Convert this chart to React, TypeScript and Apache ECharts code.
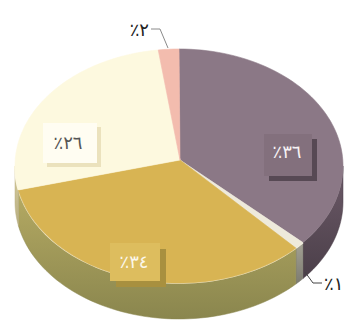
import React, { useEffect, useRef } from 'react';
import * as echarts from 'echarts';

// ---- data ----
const SLICE_NAMES = ['slice1', 'slice2', 'slice3', 'slice4', 'slice5'];
const SHARES = [36, 1, 34, 26, 2];

// ---- styles ----
const TOP_COLORS = ['#8b7886', '#eeeadb', '#d8b453', '#fdf9df', '#f3bcae'];
const SIDE_COLORS = [
  ['#6c5a68', '#4b3f49'],
  ['#a3a194', '#7c7b70'],
  ['#b5aa63', '#8a864e'],
  ['#d9cf9f', '#b8ae80'],
  ['#d8a094', '#c08c80'],
];
const RIM_COLORS = ['rgba(0,0,0,0)', '#f6f3e6', '#f4ecd2', '#fbf6e0', '#f8e0d8'];

const GEO = { cx: 179, cy: 166, rx: 164, ry: 117, vx: 180, vy: 160, depth: 36 };

// label layout per slice (positions only, no data)
const LABEL_LAYOUT: any[] = [
  { kind: 'box', box: [264, 134, 48, 42], shadow: 5, boxFill: '#83707d', shadowFill: '#574954', text: [287, 151], color: '#f6f2f4' },
  { kind: 'out', text: [324, 283], align: 'left', leader: [[305, 272], [313, 283], [322, 283]], color: '#222222', lineColor: '#444444' },
  { kind: 'box', box: [110, 243, 50, 38], shadow: 6, boxFill: '#ddbd5e', shadowFill: '#a8903f', text: [134, 261], color: '#fbf7ea' },
  { kind: 'box', box: [43, 123, 54, 40], shadow: 4, boxFill: '#fffdf2', shadowFill: '#ebe2bd', text: [68, 142], color: '#555555' },
  { kind: 'out', text: [149, 29], align: 'right', leader: [[151, 29], [160, 29], [168, 48]], color: '#222222', lineColor: '#8a8a8a' },
];

const AR_DIGITS = '٠١٢٣٤٥٦٧٨٩';
const toArabic = (n: number) => String(n).replace(/\d/g, (d) => AR_DIGITS[+d]);
const labelText = (v: number) => '٪' + toArabic(v);

function arcPts(a1: number, a2: number, dy: number) {
  const n = Math.max(2, Math.ceil(Math.abs(a2 - a1) / 2));
  const pts: number[][] = [];
  for (let i = 0; i <= n; i++) {
    const a = ((a1 + (a2 - a1) * (i / n)) * Math.PI) / 180;
    pts.push([GEO.cx + GEO.rx * Math.cos(a), GEO.cy - GEO.ry * Math.sin(a) + dy]);
  }
  return pts;
}

export default function App() {
  const ref = useRef<HTMLDivElement>(null);
  useEffect(() => {
    document.body.style.margin = '0';
    if (!ref.current) return;
    const chart = echarts.init(ref.current, undefined, { renderer: 'svg' });
    const total = SHARES.reduce((a, b) => a + b, 0);
    let acc = 0;
    const rows = SHARES.map((v, i) => {
      const s = acc / total;
      acc += v;
      return { name: SLICE_NAMES[i], value: [v, s, acc / total] };
    });

    const angles = (api: any) => {
      const s = api.value(1);
      const e = api.value(2);
      return [90 - s * 360, 90 - e * 360];
    };

    const sideItem = (params: any, api: any) => {
      const idx = params.dataIndex;
      const [aS, aE] = angles(api);
      const lo = Math.max(aE, -180);
      const hi = Math.min(aS, 0);
      if (lo >= hi) return { type: 'group', children: [] };
      const top = arcPts(hi, lo, 0);
      const bottom = arcPts(lo, hi, GEO.depth);
      return {
        type: 'group',
        children: [
          {
            type: 'polygon',
            shape: { points: top.concat(bottom) },
            style: {
              fill: {
                type: 'linear', x: 0, y: 0, x2: 0, y2: 1,
                colorStops: [
                  { offset: 0, color: SIDE_COLORS[idx][0] },
                  { offset: 1, color: SIDE_COLORS[idx][1] },
                ],
              },
              stroke: SIDE_COLORS[idx][1],
              lineWidth: 0.5,
            },
          },
          {
            type: 'polyline',
            shape: { points: top },
            style: { fill: 'none', stroke: RIM_COLORS[idx], lineWidth: 1.6 },
          },
        ],
      };
    };

    const topItem = (params: any, api: any) => {
      const idx = params.dataIndex;
      const [aS, aE] = angles(api);
      const pts = [[GEO.vx, GEO.vy]].concat(arcPts(aS, aE, 0));
      return {
        type: 'polygon',
        shape: { points: pts },
        style: { fill: TOP_COLORS[idx], stroke: TOP_COLORS[idx], lineWidth: 0.6 },
      };
    };

    const labelItem = (params: any, api: any) => {
      const idx = params.dataIndex;
      const L = LABEL_LAYOUT[idx];
      const txt = labelText(api.value(0));
      const children: any[] = [];
      const font = { fontFamily: 'DejaVu Sans', fontSize: 18, fontWeight: 'normal' };
      if (L.kind === 'box') {
        const [x, y, w, h] = L.box;
        children.push({ type: 'rect', shape: { x: x + L.shadow, y: y + L.shadow, width: w, height: h }, style: { fill: L.shadowFill } });
        children.push({ type: 'rect', shape: { x, y, width: w, height: h }, style: { fill: L.boxFill } });
        children.push({
          type: 'text',
          style: { text: txt, x: L.text[0], y: L.text[1], fill: L.color, align: 'center', verticalAlign: 'middle', ...font },
        });
      } else {
        children.push({ type: 'polyline', shape: { points: L.leader }, style: { fill: 'none', stroke: L.lineColor, lineWidth: 1 } });
        children.push({
          type: 'text',
          style: { text: txt, x: L.text[0], y: L.text[1], fill: L.color, align: L.align, verticalAlign: 'middle', ...font },
        });
      }
      return { type: 'group', children };
    };

    chart.setOption({
      animation: false,
      backgroundColor: '#ffffff',
      series: [
        { type: 'custom', coordinateSystem: 'none', z: 1, data: rows, renderItem: sideItem, silent: true },
        { type: 'custom', coordinateSystem: 'none', z: 2, data: rows, renderItem: topItem, silent: true },
        { type: 'custom', coordinateSystem: 'none', z: 3, data: rows, renderItem: labelItem, silent: true },
      ],
    });
    return () => chart.dispose();
  }, []);
  return <div ref={ref} style={{ width: 346, height: 325 }} />;
}
